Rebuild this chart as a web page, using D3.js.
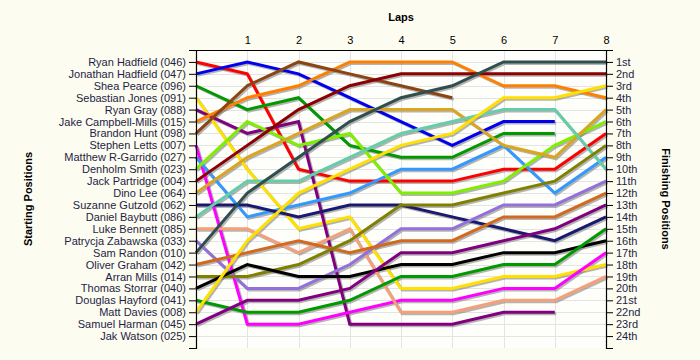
<!DOCTYPE html>
<html>
<head>
<meta charset="utf-8">
<script src="https://cdn.jsdelivr.net/npm/d3@7"></script>
<style>
  html, body { margin: 0; padding: 0; background: #fcfcf0; }
  svg { display: block; }
  text { font-family: "Liberation Sans", Arial, sans-serif; }
</style>
</head>
<body>
<svg id="chart" width="700" height="360"></svg>
<script>
// ---------- data ----------
const laps = [0, 1, 2, 3, 4, 5, 6, 7, 8];
const lapTickLabels = ["1", "2", "3", "4", "5", "6", "7", "8"];
const drivers = [
  "Ryan Hadfield (046)", "Jonathan Hadfield (047)", "Shea Pearce (096)", "Sebastian Jones (091)",
  "Ryan Gray (088)", "Jake Campbell-Mills (015)", "Brandon Hunt (098)", "Stephen Letts (007)",
  "Matthew R-Garrido (027)", "Denholm Smith (023)", "Jack Partridge (004)", "Dino Lee (064)",
  "Suzanne Gutzold (062)", "Daniel Baybutt (086)", "Luke Bennett (085)", "Patrycja Zabawska (033)",
  "Sam Randon (010)", "Oliver Graham (042)", "Arran Mills (014)", "Thomas Storrar (040)",
  "Douglas Hayford (041)", "Matt Davies (008)", "Samuel Harman (045)", "Jak Watson (025)"
];
const finishLabels = ["1st","2nd","3rd","4th","5th","6th","7th","8th","9th","10th","11th","12th",
  "13th","14th","15th","16th","17th","18th","19th","20th","21st","22nd","23rd","24th"];
const lineColors = [
  "#ff0000", "#0000ee", "#009900", "#ffe000", "#800080", "#ff8000", "#8b4513", "#ff00ff",
  "#3399ff", "#80ee00", "#8b0000", "#daa520", "#191970", "#66cdaa", "#f5a07a", "#9370db",
  "#2f4f4f", "#d2691e", "#808000", "#000000", "#009900", "#ffe000", "#800080", "#999999"
];
// position of each driver after each lap (null = not running)
const positions = [
  [1, 2, 10, 11, 11, 11, 10, 10, 7],
  [2, 1, 2, 4, 6, 8, 6, 6, null],
  [3, 5, 4, 8, 9, 9, 7, 7, null],
  [4, 10, 15, 14, 20, 20, 19, 19, 18],
  [5, 7, 6, 23, 23, 23, 22, 22, null],
  [6, 4, 3, 1, 1, 1, 3, 3, 4],
  [7, 3, 1, 2, 3, 4, null, null, null],
  [8, 23, 23, 22, 21, 21, 20, 20, 17],
  [9, 14, 13, 12, 10, 10, 8, 12, 9],
  [10, 6, 8, 7, 12, 12, 11, 8, 6],
  [11, 8, 5, 3, 2, 2, 2, 2, 2],
  [12, 9, 7, 5, 5, 5, 8, 9, 5],
  [13, 13, 14, 13, 13, 14, 15, 16, 14],
  [14, 11, 11, 9, 7, 6, 5, 5, 10],
  [15, 15, 17, 15, 22, 22, 21, 21, 19],
  [16, 20, 20, 18, 15, 15, 13, 13, 11],
  [17, 12, 9, 6, 4, 3, 1, 1, 1],
  [18, 17, 16, 17, 16, 16, 14, 14, 12],
  [19, 19, 18, 16, 13, 13, 12, 11, 8],
  [20, 18, 19, 19, 18, 18, 17, 17, 16],
  [21, 22, 22, 21, 19, 19, 18, 18, 15],
  [22, 16, 12, 10, 8, 7, 4, 4, 3],
  [23, 21, 21, 20, 17, 17, 16, 15, 13],
  [null, null, null, null, null, null, null, null, null]
];

// ---------- layout ----------
const svg = d3.select("#chart");
const pLeft = 196, pRight = 606, pTop = 50, pBottom = 348;
const positionsAxis = d3.range(1, drivers.length + 1);

const x = d3.scaleLinear().domain([0, 8]).range([pLeft, pRight]);
const y = d3.scaleLinear().domain([0, 25]).range([pTop, pBottom]);

// plot background
svg.append("rect").attr("x", pLeft).attr("y", pTop)
  .attr("width", pRight - pLeft).attr("height", pBottom - pTop)
  .attr("fill", "#fefefa");

// grid
const grid = svg.append("g").attr("stroke", "#e4e4e4").attr("stroke-width", 1);
grid.selectAll("line.h").data(positionsAxis).join("line").attr("class", "h")
  .attr("x1", pLeft).attr("x2", pRight)
  .attr("y1", d => Math.round(y(d)) + 0.5).attr("y2", d => Math.round(y(d)) + 0.5);
grid.selectAll("line.v").data(laps.slice(1, -1)).join("line").attr("class", "v")
  .attr("y1", pTop).attr("y2", pBottom)
  .attr("x1", d => Math.round(x(d)) + 0.5).attr("x2", d => Math.round(x(d)) + 0.5);

// lines
const line = d3.line()
  .defined(d => d.p != null)
  .x(d => x(d.lap))
  .y(d => y(d.p));

const series = positions.map((arr, i) => ({
  name: drivers[i], color: lineColors[i],
  pts: arr.map((p, j) => ({ lap: laps[j], p }))
})).filter(s => s.pts.some(d => d.p != null));

svg.append("g").attr("transform", "translate(1.5,1.5)")
  .selectAll("path").data(series).join("path")
  .attr("d", d => line(d.pts))
  .attr("fill", "none").attr("stroke", "#777").attr("stroke-opacity", 0.55)
  .attr("stroke-width", 3);

svg.append("g")
  .selectAll("path").data(series).join("path")
  .attr("d", d => line(d.pts))
  .attr("fill", "none").attr("stroke", d => d.color)
  .attr("stroke-width", 3).attr("stroke-linejoin", "miter");

// axes
const textColor = "#1e1e46";
const yLeft = d3.axisLeft(y).tickValues(positionsAxis)
  .tickFormat(d => drivers[d - 1]).tickSize(7).tickSizeOuter(7).tickPadding(3);
const gl = svg.append("g").attr("transform", `translate(${pLeft},0)`).call(yLeft);

const yRight = d3.axisRight(y).tickValues(positionsAxis)
  .tickFormat(d => finishLabels[d - 1]).tickSize(7).tickSizeOuter(7).tickPadding(3);
const gr = svg.append("g").attr("transform", `translate(${pRight},0)`).call(yRight);

const xTop = d3.axisTop(x).tickValues(laps.slice(1))
  .tickFormat((d, i) => lapTickLabels[i]).tickSize(0).tickSizeOuter(0).tickPadding(6);
const gt = svg.append("g").attr("transform", `translate(0,${pTop})`).call(xTop);

[gl, gr, gt].forEach(g => {
  g.selectAll("path.domain").attr("stroke", "#000").attr("stroke-width", 1.2);
  g.selectAll(".tick line").attr("stroke", "#000");
  g.selectAll("text").attr("font-size", 11).attr("fill", textColor)
    .attr("font-family", "'Liberation Sans', Arial, sans-serif");
});
gt.selectAll("text").attr("font-size", 11).attr("fill", "#000");

// titles
svg.append("text").attr("x", (pLeft + pRight) / 2).attr("y", 21)
  .attr("text-anchor", "middle").attr("font-size", 11).attr("font-weight", "bold")
  .text("Laps");
svg.append("text").attr("transform", `translate(32,${(pTop + pBottom) / 2}) rotate(-90)`)
  .attr("text-anchor", "middle").attr("font-size", 11).attr("font-weight", "bold")
  .text("Starting Positions");
svg.append("text").attr("transform", `translate(662,${(pTop + pBottom) / 2}) rotate(90)`)
  .attr("text-anchor", "middle").attr("font-size", 11).attr("font-weight", "bold")
  .text("Finishing Positions");
</script>
</body>
</html>
